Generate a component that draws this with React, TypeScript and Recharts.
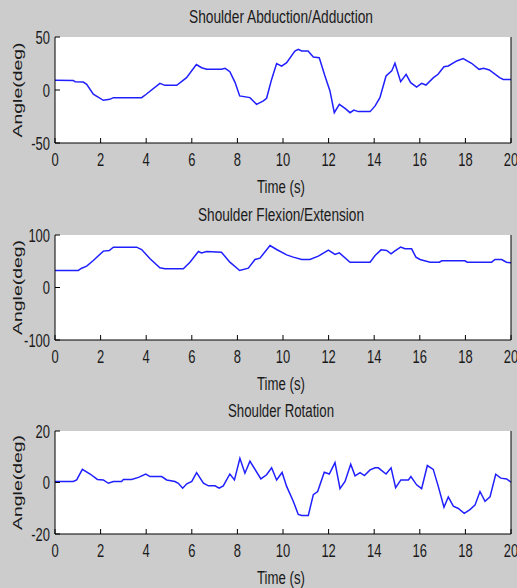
import { LineChart, Line, XAxis, YAxis, CartesianGrid, Label } from 'recharts';

const xTicks = [0, 2, 4, 6, 8, 10, 12, 14, 16, 18, 20];

// Shoulder Abduction/Adduction
const abdTime = [
  0, 0.8, 0.88, 1.24, 1.39, 1.68, 2.12, 2.4, 2.56, 3.8, 4.0, 4.6, 4.82, 5.34, 5.77, 6.2, 6.43, 6.65, 7.3, 7.46,
  7.67, 7.9, 8.1, 8.55, 8.84, 9.14, 9.28, 9.5, 9.72, 9.94, 10.16, 10.52, 10.67, 10.82, 11.1, 11.33, 11.59, 11.84,
  12.06, 12.25, 12.47, 12.72, 12.94, 13.11, 13.3, 13.82, 14.04, 14.25, 14.52, 14.77, 14.91, 15.16, 15.4, 15.6,
  15.86, 16.08, 16.27, 16.6, 16.8, 17.06, 17.25, 17.62, 17.9, 18.27, 18.6, 18.8, 19.05, 19.5, 19.66, 20,
];
const abdAngle = [
  9.1, 9, 7.8, 7.5, 5.4, -4, -9.7, -8.8, -7.2, -7.2, -4, 6.3, 4.4, 4.4, 11.7, 24, 21, 19.5, 19.5, 20.5,
  17.3, 7, -5.6, -7.2, -13.5, -10.3, -7.8, 10, 25, 22.5, 25.8, 36.8, 38.4, 36.8, 36.8, 31.2, 30.5, 13.2,
  -0.9, -21.4, -13.5, -17.3, -21.4, -18.9, -20.4, -20.4, -15, -7.2, 13.2, 18, 25.2, 7.9, 14.8, 6.9,
  2.8, 6.3, 4.7, 11.7, 14.8, 22, 22.7, 27.4, 29.6, 25.2, 19.5, 20.5, 18.9, 11.7, 10, 10,
];
const abdTicks = [-50, 0, 50];

// Shoulder Flexion/Extension
const flexTime = [
  0, 1.02, 1.17, 1.39, 1.68, 2.12, 2.38, 2.56, 3.58, 3.8, 4.17, 4.6, 4.82, 5.63, 5.92, 6.29, 6.43, 6.65, 7.3,
  7.67, 8.1, 8.48, 8.77, 8.99, 9.43, 9.72, 10.16, 10.45, 10.82, 11.18, 11.55, 11.99, 12.28, 12.47, 12.94,
  13.82, 14.04, 14.3, 14.55, 14.74, 14.91, 15.16, 15.35, 15.64, 15.83, 16.01, 16.45, 16.86, 16.96, 17.98,
  18.08, 19.15, 19.3, 19.59, 19.8, 20,
];
const flexAngle = [
  32.4, 32.4, 36.8, 40.6, 51.4, 69.3, 70.5, 76.9, 76.9, 72.4, 54.6, 37.5, 35.6, 35.6, 48.2, 68.6, 66, 68.6, 67.3,
  48.2, 32.4, 36.8, 53.3, 55.9, 80, 72.4, 62.2, 57.8, 53.3, 53.3, 59.7, 71.1, 62.9, 66, 48.2,
  48.2, 61, 71.7, 70.5, 64.2, 69.9, 76.9, 73.7, 73.7, 57.8, 53.3, 48.2, 48.2, 50.8, 50.8,
  48.2, 48.2, 53.3, 53.3, 48.2, 47,
];
const flexTicks = [-100, 0, 100];

// Shoulder Rotation
const rotTime = [
  0, 0.8, 0.95, 1.2, 1.54, 1.86, 2.12, 2.34, 2.56, 2.92, 3, 3.36, 3.66, 3.98, 4.17, 4.68, 4.9, 5.26, 5.41, 5.6,
  5.78, 6.0, 6.21, 6.51, 6.73, 7.02, 7.2, 7.38, 7.67, 7.87, 8.11, 8.33, 8.55, 9.03, 9.28, 9.5, 9.72, 9.96,
  10.16, 10.45, 10.67, 10.82, 11.11, 11.33, 11.52, 11.81, 12.03, 12.28, 12.5, 12.72, 12.97, 13.16, 13.38,
  13.57, 13.82, 14.04, 14.18, 14.52, 14.74, 14.94, 15.17, 15.5, 15.61, 15.86, 16.08, 16.33, 16.59, 16.81,
  17.06, 17.25, 17.47, 17.69, 17.95, 18.2, 18.42, 18.64, 18.86, 19.08, 19.33, 19.55, 19.81, 20,
];
const rotAngle = [
  0.4, 0.4, 1, 5.1, 3.3, 1.2, 1, -0.3, 0.4, 0.4, 1.2, 1.2, 2, 3.3, 2.3, 2.3, 1, 0.4, -0.3, -2.2,
  -0.5, 0.4, 3.8, -0.3, -1.3, -1.3, -2.2, -1.3, 3.3, 1, 9.4, 3.6, 8.3, 1.4, 3.0, 5.7, 1, 3.9,
  -1.5, -7.3, -12.4, -12.8, -12.8, -4.7, -3.5, 4, 3.3, 7.7, -2.4, 0.4, 7.1, 2.6, 3.8,
  2.7, 4.9, 5.7, 5.7, 3.3, 5.7, -2, 1, 1, 2.3, -0.9, -2.4, 6.6, 5.1, -1.5,
  -9.6, -5.6, -9.2, -10.1, -12, -10.5, -8.8, -3.5, -7.3, -5.6, 3.2, 1.7, 1.4, 0.1,
];
const rotTicks = [-20, 0, 20];

const FONT = '"Liberation Sans", Arial, Helvetica, sans-serif';
const TEXT = '#1a1a1a';
const SQUEEZE = 0.72;
const CENTER_X = 281;
const CHART_W = 517;
const CHART_H = 200;

function XTick({ x, y, payload }: any) {
  return (
    <text transform={`translate(${x},${y}) scale(${SQUEEZE},1)`} y={6.5} textAnchor="middle"
      fontSize={18} fontFamily={FONT} fill={TEXT}>
      {payload.value}
    </text>
  );
}

function YTick({ x, y, payload }: any) {
  return (
    <text transform={`translate(${x},${y}) scale(${SQUEEZE},1)`} y={6.5} textAnchor="end"
      fontSize={18} fontFamily={FONT} fill={TEXT}>
      {payload.value}
    </text>
  );
}

const NoTick = () => <g />;

interface PanelProps {
  title: string;
  titleLen: number;
  time: number[];
  angle: number[];
  yTicks: number[];
  top: number;
  plotTop: number;
  plotBottom: number;
}

function Panel({ title, titleLen, time, angle, yTicks, top, plotTop, plotBottom }: PanelProps) {
  const data = time.map((t, i) => ({ t, v: angle[i] }));
  const midY = (plotTop + plotBottom) / 2;
  const domain: [number, number] = [yTicks[0], yTicks[yTicks.length - 1]];
  const axisStroke = { stroke: '#000' };

  return (
    <div style={{ position: 'absolute', left: 0, top, width: CHART_W, height: CHART_H }}>
      <LineChart width={CHART_W} height={CHART_H} data={data}
        margin={{ top: plotTop, right: 0, bottom: 0, left: 0 }}>
        <CartesianGrid fill="#fff" horizontal={false} vertical={false} />
        <XAxis dataKey="t" type="number" domain={[0, 20]} ticks={xTicks} interval={0}
          height={CHART_H - plotBottom} tickSize={-5} tickMargin={21.5} tick={<XTick />}
          axisLine={axisStroke} tickLine={axisStroke}>
          <Label content={() => (
            <text x={CENTER_X} y={plotBottom + 50} textAnchor="middle" fontSize={18} fontFamily={FONT}
              fill={TEXT} textLength={48} lengthAdjust="spacingAndGlyphs">Time (s)</text>
          )} />
        </XAxis>
        <XAxis xAxisId="top" orientation="top" dataKey="t" type="number" domain={[0, 20]} ticks={xTicks}
          interval={0} height={0} tickSize={-5} tick={<NoTick />} axisLine={axisStroke} tickLine={axisStroke} />
        <YAxis type="number" domain={domain} ticks={yTicks} interval={0} width={55} tickSize={-5}
          tickMargin={10} tick={<YTick />} axisLine={axisStroke} tickLine={axisStroke} allowDataOverflow>
          <Label content={() => (
            <g>
              <text x={CENTER_X} y={plotTop - 14.5} textAnchor="middle" fontSize={18} fontFamily={FONT}
                fill={TEXT} textLength={titleLen} lengthAdjust="spacingAndGlyphs">{title}</text>
              <text transform={`translate(18,${midY}) rotate(-90) scale(1,${SQUEEZE})`} y={6}
                textAnchor="middle" fontSize={18} fontFamily={FONT} fill={TEXT}
                textLength={95} lengthAdjust="spacingAndGlyphs">Angle(deg)</text>
            </g>
          )} />
        </YAxis>
        <YAxis yAxisId="right" orientation="right" type="number" domain={domain} ticks={yTicks} interval={0}
          width={6} tickSize={-5} tick={<NoTick />} axisLine={axisStroke} tickLine={axisStroke} />
        <Line dataKey="v" type="linear" stroke="#1f1fff" strokeWidth={1.5} dot={false}
          activeDot={false} isAnimationActive={false} />
      </LineChart>
    </div>
  );
}

export default function App() {
  return (
    <div style={{ position: 'absolute', left: 0, top: 0, width: 517, height: 588, background: '#cccccc', overflow: 'hidden' }}>
      <Panel title="Shoulder Abduction/Adduction" titleLen={184} time={abdTime} angle={abdAngle}
        yTicks={abdTicks} top={0} plotTop={37} plotBottom={143} />
      <Panel title="Shoulder Flexion/Extension" titleLen={166} time={flexTime} angle={flexAngle}
        yTicks={flexTicks} top={196} plotTop={39} plotBottom={144} />
      <Panel title="Shoulder Rotation" titleLen={106} time={rotTime} angle={rotAngle}
        yTicks={rotTicks} top={392} plotTop={39} plotBottom={142} />
    </div>
  );
}
